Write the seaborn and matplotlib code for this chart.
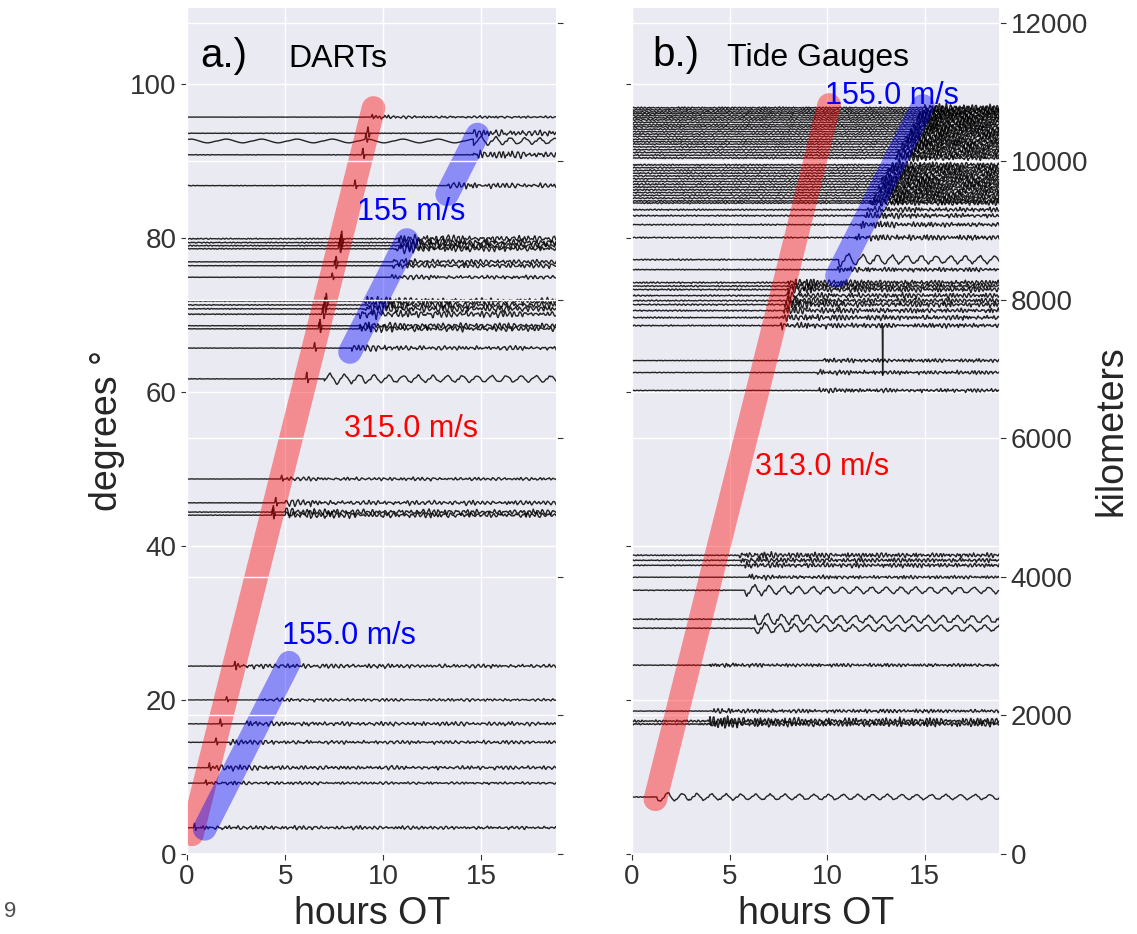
import numpy as np
import pandas as pd
import matplotlib
matplotlib.use("Agg")
import matplotlib.pyplot as plt
import seaborn as sns

# ---------------- data ----------------
KM_PER_DEG = 111.19
HOURS_MAX = 18.85
DT = 0.02

# hand-read wiggle shapes (unitless)
FAST = [0.1, 0.7, -0.5, 0.9, -0.8, 0.2, 0.5, -0.6, 0.8, -0.3, -0.7, 0.6, 0.3,
        -0.9, 0.4, 0.7, -0.4, -0.2, 0.9, -0.6, 0.1, 0.5, -0.8, 0.6, -0.1, 0.3,
        -0.5, 0.8, -0.7, 0.2, 0.6, -0.3, -0.6, 0.7, -0.2, 0.4, -0.9]
MID = [0.4, -0.3, 0.8, 0.1, -0.6, -0.2, 0.5, 0.9, -0.4, -0.8, 0.2, 0.6, -0.1,
       -0.5, 0.7, 0.3, -0.7, 0.0, 0.5, -0.4, 0.2, -0.9, 0.6]
SLOW = [0.0, 0.35, 0.7, 0.95, 1.0, 0.8, 0.45, 0.05, -0.35, -0.7, -0.95, -1.0,
        -0.8, -0.45, -0.1]
BUMP = [0.4, 1.0, 1.4, 0.8, -0.2, -0.8, -0.5, 0.0]

# Panel a: DART traces (degrees)
dart_deg = [95.7, 93.6, 92.6, 90.8, 86.8, 79.9, 79.4, 79.0, 78.6, 76.9, 76.4,
            74.9, 71.8, 71.3, 70.8, 70.1, 68.6, 68.2, 65.7, 61.7, 48.7, 45.6,
            44.4, 44.0, 24.4, 20.0, 16.9, 14.5, 11.2, 9.2, 3.4]
dart_onset = [9.6, 14.6, 14.6, 14.6, 13.3, 10.8, 10.8, 11.0, 10.6, 10.5, 10.5,
              10.4, 9.0, 9.2, 9.0, 8.8, 8.8, 8.8, 8.4, 7.0, 5.0, 5.0,
              5.0, 5.0, 2.5, 3.8, 3.0, 2.2, 1.3, 1.1, 0.7]
dart_amp = [0.25, 0.6, 0.5, 0.6, 0.5, 0.7, 0.7, 0.7, 0.6, 0.5, 0.5,
            0.4, 0.7, 0.7, 0.7, 0.7, 0.6, 0.6, 0.5, 0.6, 0.35, 0.5,
            0.6, 0.6, 0.45, 0.3, 0.45, 0.4, 0.45, 0.3, 0.4]
dart_kind = ["f", "f", "s", "f", "f", "f", "f", "f", "f", "f", "f",
             "f", "f", "f", "f", "f", "f", "f", "f", "s", "f", "f",
             "f", "f", "f", "f", "f", "f", "f", "f", "f"]
dart_pre = [0.12, 0.1, 0.5, 0.1, 0.12, 0.15, 0.15, 0.15, 0.15, 0.1, 0.1,
            0.1, 0.12, 0.12, 0.12, 0.12, 0.1, 0.1, 0.1, 0.1, 0.1, 0.1,
            0.1, 0.1, 0.1, 0.1, 0.1, 0.1, 0.1, 0.1, 0.1]

# Panel b: tide gauge traces (kilometers)
tg_km = [10775, 10745, 10715, 10690, 10660, 10630, 10600, 10565, 10530, 10500,
         10465, 10430, 10395, 10360, 10320, 10285, 10250, 10210, 10170, 10130,
         10090, 10050, 9950, 9910, 9870, 9830, 9790, 9750, 9710, 9670,
         9630, 9590, 9550, 9510, 9470, 9430, 9400, 9303, 9217, 9087, 8900,
         8582, 8438, 8250, 8200, 8150, 8063, 7990, 7933, 7846, 7745, 7630,
         7125, 6952, 6693,
         4313, 4240, 4168, 3996, 3808, 3390, 3260, 2726, 2063, 1918, 1875, 822]
tg_onset = [15.0, 14.9, 14.9, 14.8, 14.7, 14.7, 14.6, 14.5, 14.5, 14.4,
            14.3, 14.3, 14.2, 14.1, 14.0, 14.0, 13.9, 13.8, 13.7, 13.6,
            13.6, 13.5, 13.3, 13.2, 13.1, 13.1, 13.0, 12.9, 12.8, 12.8,
            12.7, 12.6, 12.5, 12.5, 12.4, 12.3, 12.2, 12.1, 11.9, 11.7, 11.4,
            10.6, 10.5, 8.0, 8.0, 8.0, 7.9, 7.9, 7.8, 7.8, 7.7, 7.6,
            9.8, 9.5, 9.6,
            5.5, 5.6, 5.8, 6.0, 5.8, 6.3, 6.3, 4.0, 4.2, 4.0, 4.0, 1.3]
tg_amp = [70, 65, 65, 65, 65, 60, 65, 60, 65, 60,
          60, 65, 60, 60, 65, 60, 60, 65, 60, 60,
          65, 60, 65, 60, 65, 60, 65, 60, 70, 65,
          60, 65, 60, 65, 60, 60, 60, 55, 55, 55, 60,
          75, 50, 65, 60, 65, 60, 60, 65, 60, 60, 55,
          40, 45, 45,
          60, 55, 55, 40, 65, 75, 65, 40, 45, 80, 65, 55]
tg_kind = ["f"] * 41 + ["s", "f"] + ["f"] * 9 + ["f", "f", "f"] + \
          ["f", "f", "f", "f", "s", "s", "s", "f", "f", "f", "f", "s"]
tg_pre = [0.25] * 41 + [0.2, 0.2] + [0.25] * 9 + [0.15, 0.15, 0.15] + \
         [0.2, 0.2, 0.2, 0.15, 0.15, 0.15, 0.15, 0.2, 0.2, 0.3, 0.3, 0.15]
spike_km, spike_t, spike_depth = 7630, 12.85, -720

# Speed bands: speed (m/s), time offset t0 (h), start and end hour
a_band_speed = [315.0, 155.0, 155.0, 155.0]
a_band_t0 = [0.0, 0.25, -4.69, -3.82]
a_band_t1 = [0.25, 0.9, 8.3, 13.25]
a_band_t2 = [9.5, 5.2, 11.2, 14.8]
a_band_color = ["red", "blue", "blue", "blue"]

b_band_speed = [313.0, 155.0]
b_band_t0 = [0.5, -4.46]
b_band_t1 = [1.2, 10.5]
b_band_t2 = [10.1, 14.9]
b_band_color = ["red", "blue"]

# ---------------- style ----------------
sns.set_theme(style="darkgrid")
plt.rcParams["font.family"] = ["Liberation Sans", "DejaVu Sans"]
plt.rcParams.update({
    "xtick.major.size": 4, "ytick.major.size": 4,
    "xtick.major.width": 0.8, "ytick.major.width": 0.8,
    "xtick.color": ".2", "ytick.color": ".2",
})

T = np.arange(0, HOURS_MAX + 1e-9, DT)
FAST_A, MID_A, SLOW_A, BUMP_A = map(np.array, (FAST, MID, SLOW, BUMP))


def sample(template, step, shift):
    """Read a hand-typed shape along the time axis, one value per `step` hours."""
    ph = T / step + shift
    i0 = np.floor(ph).astype(int)
    fr = ph - i0
    n = len(template)
    return (1 - fr) * template[i0 % n] + fr * template[(i0 + 1) % n]


def make_traces(bases, onsets, amps, kinds, pres, fstep, red_rate=None):
    rows = []
    for i, (b, on, a, kd, pr) in enumerate(zip(bases, onsets, amps, kinds, pres)):
        fast = 0.65 * sample(FAST_A, fstep, 3 * i) + 0.35 * sample(MID_A, fstep * 0.7, 5 * i)
        if kd == "s":
            w = 0.8 * sample(SLOW_A, 0.05, 2 * i) + 0.3 * fast
        else:
            w = fast
        pre_w = 0.5 * sample(MID_A, 0.045 + 0.002 * (i % 7), 7 * i) + \
            0.5 * sample(FAST_A, 0.06 + 0.003 * (i % 5), 11 * i)
        if kd == "s" and pr > 0.3:
            pre_w = sample(SLOW_A, 0.12, i)
        env = np.interp(T - on, [0, 1.5, 4, 20], [1.5, 1.1, 0.9, 0.75])
        y = np.where(T >= on, b + a * env * w, b + a * pr * pre_w)
        if red_rate is not None:
            idx = int(np.searchsorted(T, b / red_rate))
            n = min(len(BUMP_A), len(T) - idx)
            y[idx:idx + n] += a * BUMP_A[:n]
        rows.append(pd.DataFrame({"t": T, "y": y, "trace": i}))
    return pd.concat(rows, ignore_index=True)


def speed_rate(speed_ms, per_deg):
    return speed_ms * 3.6 / per_deg


fig = plt.figure(figsize=(11.37, 9.34), dpi=100)
axa = fig.add_axes([0.1645, 0.0857, 0.3254, 0.9068])
axa2 = axa.twinx()
axb = fig.add_axes([0.5558, 0.0857, 0.3237, 0.9068])
axb2 = axb.twinx()

YMAX_DEG = 110.0
YMAX_KM = YMAX_DEG * KM_PER_DEG

# ----- panel a -----
df_a = make_traces(dart_deg, dart_onset, dart_amp, dart_kind, dart_pre, 0.09,
                   red_rate=speed_rate(315.0, KM_PER_DEG))
sns.lineplot(data=df_a, x="t", y="y", units="trace", estimator=None, sort=False,
             color="black", linewidth=1.0, alpha=0.85, legend=False, ax=axa)
for sp, t0, t1, t2, c in zip(a_band_speed, a_band_t0, a_band_t1, a_band_t2, a_band_color):
    tt = np.array([t1, t2])
    axa.plot(tt, speed_rate(sp, KM_PER_DEG) * (tt - t0), color=c, alpha=0.4,
             lw=17, solid_capstyle="round", zorder=5)
axa.text(11.4, 83.4, "155 m/s", color="blue", fontsize=22, ha="center", va="center", zorder=6)
axa.text(11.4, 55.2, "315.0 m/s", color="red", fontsize=22, ha="center", va="center", zorder=6)
axa.text(8.27, 28.3, "155.0 m/s", color="blue", fontsize=22, ha="center", va="center", zorder=6)
axa.text(0.66, 102.2, "a.)", fontsize=29, ha="left", va="baseline", color="black")
axa.text(5.15, 102.2, "DARTs", fontsize=23, ha="left", va="baseline", color="black")

axa.set_xlim(0, HOURS_MAX)
axa.set_ylim(0, YMAX_DEG)
axa.set_xticks([0, 5, 10, 15])
axa.set_yticks([0, 20, 40, 60, 80, 100])
axa.tick_params(axis="both", labelsize=20, bottom=True, left=True, direction="out")
axa.set_xlabel("hours OT", fontsize=27)
axa.set_ylabel("degrees °", fontsize=27)
axa2.set_ylim(0, YMAX_KM)
axa2.set_yticks(range(0, 12001, 2000))
axa2.tick_params(axis="y", right=True, labelright=False, direction="out")
axa2.grid(True, color="white", lw=1)

# ----- panel b -----
df_b = make_traces(tg_km, tg_onset, tg_amp, tg_kind, tg_pre, 0.07)
sp_i = tg_km.index(spike_km)
sel = (df_b["trace"] == sp_i) & (np.isclose(df_b["t"], np.round(spike_t / DT) * DT))
df_b.loc[sel, "y"] = spike_km + spike_depth
axb.set_ylim(0, YMAX_DEG)
axb.set_yticks([0, 20, 40, 60, 80, 100])
axb.set_xlim(0, HOURS_MAX)
axb.set_xticks([0, 5, 10, 15])
axb.tick_params(axis="y", left=True, labelleft=False, direction="out")
axb.tick_params(axis="x", labelsize=20, bottom=True, direction="out")
axb.set_xlabel("hours OT", fontsize=27)

sns.lineplot(data=df_b, x="t", y="y", units="trace", estimator=None, sort=False,
             color="black", linewidth=1.0, alpha=0.85, legend=False, ax=axb2)
for sp, t0, t1, t2, c in zip(b_band_speed, b_band_t0, b_band_t1, b_band_t2, b_band_color):
    tt = np.array([t1, t2])
    axb2.plot(tt, speed_rate(sp, 1.0) * (tt - t0), color=c, alpha=0.4,
              lw=17, solid_capstyle="round", zorder=5)
axb2.text(13.3, 10947, "155.0 m/s", color="blue", fontsize=22, ha="center", va="center", zorder=6)
axb2.text(9.74, 5582, "313.0 m/s", color="red", fontsize=22, ha="center", va="center", zorder=6)
axb2.text(1.03, 11380, "b.)", fontsize=29, ha="left", va="baseline", color="black")
axb2.text(4.87, 11380, "Tide Gauges", fontsize=23, ha="left", va="baseline", color="black")
axb2.set_xlim(0, HOURS_MAX)
axb2.set_ylim(0, YMAX_KM)
axb2.set_yticks(range(0, 12001, 2000))
axb2.tick_params(axis="y", right=True, labelright=True, labelsize=20, direction="out")
axb2.set_ylabel("kilometers", fontsize=27)
axb2.set_xlabel("")
axb2.grid(True, color="white", lw=1)
axb2.grid(False, axis="x")

fig.text(0.009, 0.018, "9", fontsize=16, color=".3", ha="center")

fig.savefig("out.png", dpi=100)
